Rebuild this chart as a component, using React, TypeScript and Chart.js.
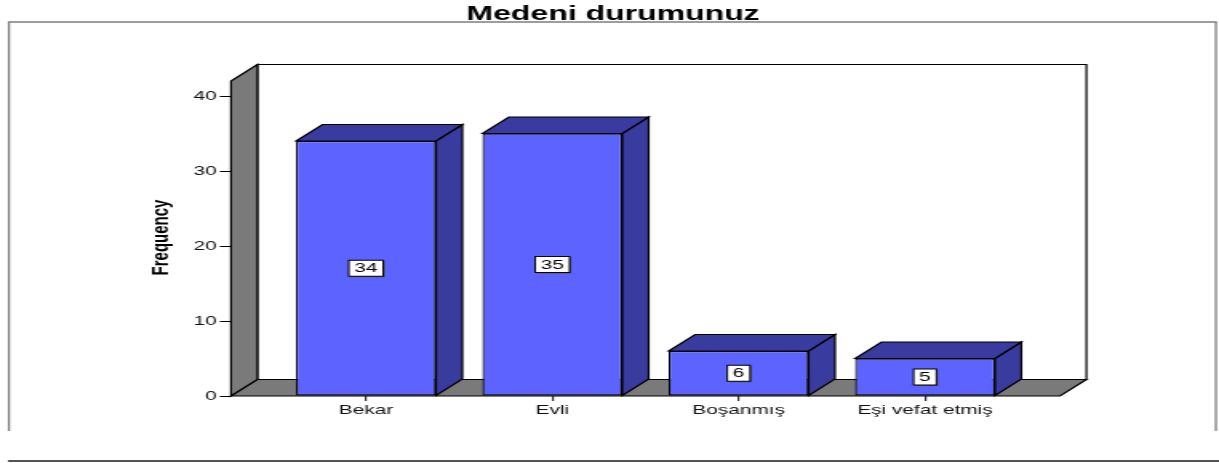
import React, { useEffect, useRef } from "react";
import { Chart, registerables } from "chart.js";

Chart.register(...registerables);

// ---- data ----
const chartTitle = "Medeni durumunuz";
const yAxisTitle = "Frequency";
const categories = ["Bekar", "Evli", "Boşanmış", "Eşi vefat etmiş"];
const frequencies = [34, 35, 6, 5];
const yTickValues = [0, 10, 20, 30, 40];
const yMax = 42;

// ---- drawing constants ----
const W = 762; // internal canvas width (stretched horizontally to 1219 css px)
const H = 463;
const CSS_W = 1219;
const FONT = "'Liberation Sans', Arial, Helvetica, sans-serif";
const FRONT = "rgb(92, 99, 255)";
const SIDE = "rgb(57, 59, 158)";
const WALL = "rgb(122, 122, 122)";
const DX = 16.5;
const DY = -16.5;

function poly(ctx: CanvasRenderingContext2D, pts: number[][], fill: string, stroke = "#000", lw = 1.2) {
  ctx.beginPath();
  ctx.moveTo(pts[0][0], pts[0][1]);
  for (let i = 1; i < pts.length; i++) ctx.lineTo(pts[i][0], pts[i][1]);
  ctx.closePath();
  ctx.fillStyle = fill;
  ctx.fill();
  ctx.strokeStyle = stroke;
  ctx.lineWidth = lw;
  ctx.lineJoin = "miter";
  ctx.stroke();
}

const scenePlugin = {
  id: "scene3d",
  beforeDraw(chart: any) {
    const ctx: CanvasRenderingContext2D = chart.ctx;
    ctx.save();
    ctx.fillStyle = "#fff";
    ctx.fillRect(0, 0, chart.width, chart.height);
    // outer frame
    ctx.strokeStyle = "#7d7d7d";
    ctx.lineWidth = 1.3;
    ctx.beginPath();
    ctx.moveTo(5.6, 431);
    ctx.lineTo(5.6, 22);
    ctx.moveTo(760, 22);
    ctx.lineTo(760, 431);
    ctx.stroke();
    ctx.lineWidth = 1.6;
    ctx.beginPath();
    ctx.moveTo(5, 22);
    ctx.lineTo(760.6, 22);
    ctx.stroke();
    // bottom rule
    ctx.strokeStyle = "#1a1a1a";
    ctx.lineWidth = 1.5;
    ctx.beginPath();
    ctx.moveTo(5, 461);
    ctx.lineTo(W, 461);
    ctx.stroke();
    // title
    ctx.fillStyle = "#000";
    ctx.font = `bold 20px ${FONT}`;
    ctx.textAlign = "center";
    ctx.textBaseline = "alphabetic";
    ctx.fillText(chartTitle, 383.2, 19.5);
    // y axis title
    ctx.translate(100.6, 237.5);
    ctx.rotate(-Math.PI / 2);
    ctx.font = `bold 15px ${FONT}`;
    ctx.textBaseline = "middle";
    ctx.fillText(yAxisTitle, 0, 0);
    ctx.restore();
  },
  beforeDatasetsDraw(chart: any) {
    const ctx: CanvasRenderingContext2D = chart.ctx;
    const { left, right } = chart.chartArea;
    const ys = chart.scales.y;
    const yTop = ys.getPixelForValue(yMax);
    const yBase = ys.getPixelForValue(0);
    ctx.save();
    // back wall
    poly(ctx, [
      [left + DX, yTop + DY],
      [right + DX, yTop + DY],
      [right + DX, yBase + DY],
      [left + DX, yBase + DY],
    ], "#fff");
    // left wall
    poly(ctx, [
      [left, yTop],
      [left + DX, yTop + DY],
      [left + DX, yBase + DY],
      [left, yBase],
    ], WALL);
    // floor
    poly(ctx, [
      [left, yBase],
      [right, yBase],
      [right + DX, yBase + DY],
      [left + DX, yBase + DY],
    ], WALL);
    ctx.restore();
  },
  afterDatasetsDraw(chart: any) {
    const ctx: CanvasRenderingContext2D = chart.ctx;
    const meta = chart.getDatasetMeta(0);
    ctx.save();
    meta.data.forEach((bar: any, i: number) => {
      const { x, y, base, width } = bar.getProps(["x", "y", "base", "width"], true);
      const xl = x - width / 2;
      const xr = x + width / 2;
      poly(ctx, [
        [xr, y],
        [xr + DX, y + DY],
        [xr + DX, base + DY],
        [xr, base],
      ], SIDE);
      poly(ctx, [
        [xl, y],
        [xl + DX, y + DY],
        [xr + DX, y + DY],
        [xr, y],
      ], SIDE);
      // value label
      const txt = String(frequencies[i]);
      ctx.font = `13px ${FONT}`;
      const tw = ctx.measureText(txt).width;
      const bw = tw + 7;
      const bh = 16;
      const cy = (y + base) / 2;
      ctx.fillStyle = "#555";
      ctx.fillRect(x - bw / 2 + 1, cy - bh / 2 + 1, bw, bh);
      ctx.fillStyle = "#fff";
      ctx.fillRect(x - bw / 2, cy - bh / 2, bw, bh);
      ctx.strokeStyle = "#000";
      ctx.lineWidth = 1;
      ctx.strokeRect(x - bw / 2, cy - bh / 2, bw, bh);
      ctx.fillStyle = "#000";
      ctx.textAlign = "center";
      ctx.textBaseline = "middle";
      ctx.fillText(txt, x, cy + 0.5);
    });
    ctx.restore();
  },
};

export default function App() {
  const ref = useRef<HTMLCanvasElement>(null);
  useEffect(() => {
    document.body.style.margin = "0";
    const canvas = ref.current;
    if (!canvas) return;
    const chart = new Chart(canvas, {
      type: "bar",
      data: {
        datasets: [
          {
            data: categories.map((_, i) => ({ x: i, y: frequencies[i] })),
            backgroundColor: FRONT,
            borderColor: "#000",
            borderWidth: 1.2,
            borderSkipped: false,
            categoryPercentage: 1,
            barPercentage: 0.751,
          } as any,
        ],
      },
      options: {
        animation: false,
        responsive: false,
        events: [],
        layout: { padding: { top: 81, right: 99.4, bottom: 0, left: 0 } },
        plugins: {
          legend: { display: false },
          title: { display: false },
          tooltip: { enabled: false },
        },
        scales: {
          x: {
            type: "linear",
            position: "bottom",
            offset: false,
            min: -0.7245,
            max: 3.7245,
            afterBuildTicks: (s: any) => {
              s.ticks = categories.map((_, i) => ({ value: i }));
            },
            afterFit: (s: any) => {
              s.height = 67;
            },
            grid: { offset: false, drawOnChartArea: false, drawTicks: true, tickLength: 5, color: "#333", lineWidth: 1.2 },
            border: { display: false },
            ticks: {
              callback: (v: any) => categories[v] ?? "",
              autoSkip: false,
              maxRotation: 0,
              minRotation: 0,
              padding: 1.5,
              color: "#111",
              font: { family: FONT, size: 13 },
            },
          },
          y: {
            type: "linear",
            min: 0,
            max: yMax,
            afterBuildTicks: (s: any) => {
              s.ticks = yTickValues.map((v) => ({ value: v }));
            },
            afterFit: (s: any) => {
              s.width = 144.4;
            },
            grid: { drawOnChartArea: false, drawTicks: true, tickLength: 7, color: "#000", lineWidth: 1 },
            border: { display: false },
            ticks: {
              padding: 2,
              color: "#111",
              font: { family: FONT, size: 13 },
            },
          },
        },
      } as any,
      plugins: [scenePlugin],
    });
    return () => chart.destroy();
  }, []);
  return (
    <canvas
      ref={ref}
      width={W}
      height={H}
      style={{ width: `${CSS_W}px`, height: `${H}px`, display: "block" }}
    />
  );
}
